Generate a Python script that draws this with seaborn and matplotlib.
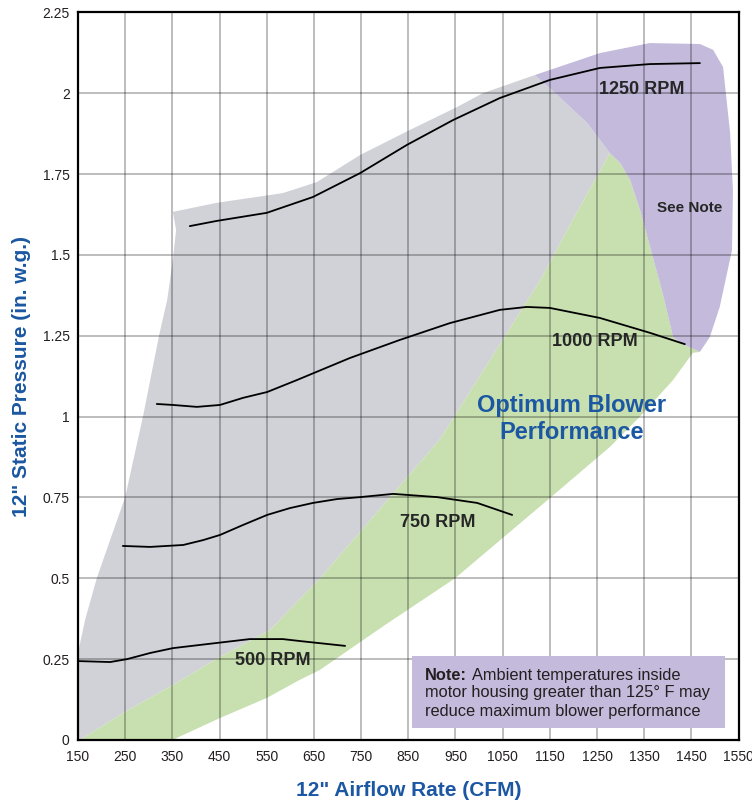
import numpy as np
import pandas as pd
import matplotlib
matplotlib.use("Agg")
import matplotlib.pyplot as plt
import seaborn as sns
from matplotlib.patches import Rectangle

# axis ticks
x_ticks = [150, 250, 350, 450, 550, 650, 750, 850, 950, 1050, 1150, 1250, 1350, 1450, 1550]
y_ticks = [0, 0.25, 0.5, 0.75, 1.0, 1.25, 1.5, 1.75, 2.0, 2.25]
y_tick_labels = ["0", "0.25", "0.5", "0.75", "1", "1.25", "1.5", "1.75", "2", "2.25"]

# region outlines (CFM, in. w.g.)
# gray / green boundary, bottom to top
gg_x = [154, 250, 351, 451, 557, 663, 811, 917, 1023, 1129, 1203, 1277]
gg_y = [0, 0.087, 0.17, 0.257, 0.34, 0.50, 0.75, 0.93, 1.175, 1.42, 1.62, 1.815]
# gray / purple boundary
gp_x = [1277, 1229, 1154, 1118]
gp_y = [1.815, 1.908, 2.01, 2.056]
# gray top edge then left edge
gray_edge_x = [1118, 1008, 953, 853, 748, 656, 584, 444, 351, 358, 351, 339, 322, 288, 250, 218, 190, 165, 150]
gray_edge_y = [2.056, 2.0, 1.957, 1.886, 1.809, 1.725, 1.691, 1.661, 1.633, 1.577, 1.484, 1.36, 1.252,
               1.002, 0.751, 0.618, 0.501, 0.371, 0.269]
# green lower edge
gl_x = [350, 451, 550, 620, 662, 800, 949, 1150, 1277, 1341, 1411, 1453]
gl_y = [0, 0.068, 0.13, 0.186, 0.216, 0.355, 0.50, 0.748, 0.906, 1.0, 1.113, 1.197]
# purple / green boundary, bottom to top
pg_x = [1468, 1436, 1411, 1390, 1368, 1341, 1320, 1299, 1277]
pg_y = [1.20, 1.221, 1.246, 1.376, 1.494, 1.639, 1.732, 1.784, 1.815]
# purple outer edge
po_x = [1118, 1256, 1362, 1468, 1496, 1517, 1532, 1538, 1536, 1510, 1489, 1468]
po_y = [2.056, 2.124, 2.155, 2.152, 2.134, 2.081, 1.877, 1.70, 1.515, 1.339, 1.246, 1.20]

# fan curves
rpm1250_x = [387, 444, 550, 648, 748, 847, 945, 1044, 1150, 1256, 1362, 1468]
rpm1250_y = [1.589, 1.605, 1.630, 1.679, 1.753, 1.840, 1.917, 1.985, 2.041, 2.078, 2.090, 2.093]
rpm1000_x = [317, 351, 402, 451, 500, 551, 614, 726, 832, 938, 1044, 1101, 1150, 1256, 1362, 1436]
rpm1000_y = [1.039, 1.036, 1.030, 1.036, 1.058, 1.076, 1.113, 1.181, 1.237, 1.289, 1.330, 1.339, 1.336,
             1.305, 1.259, 1.224]
rpm750_x = [245, 303, 373, 415, 451, 500, 551, 599, 648, 699, 748, 818, 911, 996, 1070]
rpm750_y = [0.600, 0.597, 0.603, 0.618, 0.634, 0.665, 0.696, 0.717, 0.733, 0.745, 0.751, 0.761, 0.751,
            0.733, 0.696]
rpm500_x = [150, 218, 254, 303, 351, 444, 514, 584, 620, 716]
rpm500_y = [0.244, 0.241, 0.250, 0.269, 0.284, 0.300, 0.312, 0.312, 0.306, 0.291]

GRAY = "#d1d2d7"
GREEN = "#c8dfb0"
PURPLE = "#c4badb"
BLUE = "#1b57a2"

curves = pd.concat([
    pd.DataFrame({"cfm": rpm1250_x, "sp": rpm1250_y, "rpm": 1250}),
    pd.DataFrame({"cfm": rpm1000_x, "sp": rpm1000_y, "rpm": 1000}),
    pd.DataFrame({"cfm": rpm750_x, "sp": rpm750_y, "rpm": 750}),
    pd.DataFrame({"cfm": rpm500_x, "sp": rpm500_y, "rpm": 500}),
])

sns.set_style("white")
plt.rcParams["font.family"] = ["Liberation Sans", "DejaVu Sans"]

fig = plt.figure(figsize=(7.52, 8.06), dpi=100)
ax = fig.add_axes([0.1037, 0.0819, 0.8785, 0.9028])

# shaded regions
ax.fill([150] + gg_x + gp_x[1:] + gray_edge_x[1:], [0] + gg_y + gp_y[1:] + gray_edge_y[1:],
        color=GRAY, lw=0, zorder=1)
ax.fill(gg_x + pg_x[::-1][1:] + gl_x[::-1], gg_y + pg_y[::-1][1:] + gl_y[::-1],
        color=GREEN, lw=0, zorder=1.1)
ax.fill(po_x + pg_x[1:] + gp_x[1:], po_y + pg_y[1:] + gp_y[1:],
        color=PURPLE, lw=0, zorder=1.2)

sns.lineplot(data=curves, x="cfm", y="sp", units="rpm", estimator=None, sort=False,
             color="black", lw=1.3, ax=ax, zorder=3)

ax.set_xlim(150, 1550)
ax.set_ylim(0, 2.25)
ax.set_xticks(x_ticks)
ax.set_yticks(y_ticks)
ax.set_yticklabels(y_tick_labels)
ax.tick_params(length=0, labelsize=10, colors="#231f20")
ax.tick_params(axis="x", pad=7)
ax.tick_params(axis="y", pad=6)
ax.set_axisbelow(False)
ax.grid(True, color="black", alpha=0.33, lw=1.1)
for s in ax.spines.values():
    s.set_color("black")
    s.set_linewidth(1.6)
    s.set_zorder(6)

ax.set_xlabel('12" Airflow Rate (CFM)', fontsize=15, fontweight="bold", color=BLUE)
ax.set_ylabel('12" Static Pressure (in. w.g.)', fontsize=15, fontweight="bold", color=BLUE)
ax.xaxis.set_label_coords(0.5, -0.056)
ax.yaxis.set_label_coords(-0.071, 0.5)

lab = dict(fontsize=13, fontweight="bold", ha="center", va="center", zorder=5)
ax.text(1345, 2.01, "1250 RPM", **lab)
ax.text(1246, 1.231, "1000 RPM", **lab)
ax.text(913, 0.674, "750 RPM", **lab)
ax.text(563, 0.247, "500 RPM", **lab)
ax.text(1447, 1.645, "See Note", fontsize=11, fontweight="bold", ha="center", va="center", zorder=5)
ax.text(1197, 0.993, "Optimum Blower\nPerformance", fontsize=17, fontweight="bold", color=BLUE,
        ha="center", va="center", linespacing=1.2, zorder=5)

# note box
ax.add_patch(Rectangle((0.5053, 0.0165), 0.4735, 0.0989, transform=ax.transAxes,
                       facecolor=PURPLE, edgecolor="none", zorder=4))
note = dict(transform=ax.transAxes, fontsize=11.8, va="center", ha="left", zorder=5, color="#231f20")
ax.text(0.525, 0.0893, "Note:", fontweight="bold", **note)
ax.text(0.596, 0.0893, "Ambient temperatures inside", **note)
ax.text(0.525, 0.0646, "motor housing greater than 125\u00b0 F may", **note)
ax.text(0.525, 0.0398, "reduce maximum blower performance", **note)

plt.savefig("out.png", dpi=100)
